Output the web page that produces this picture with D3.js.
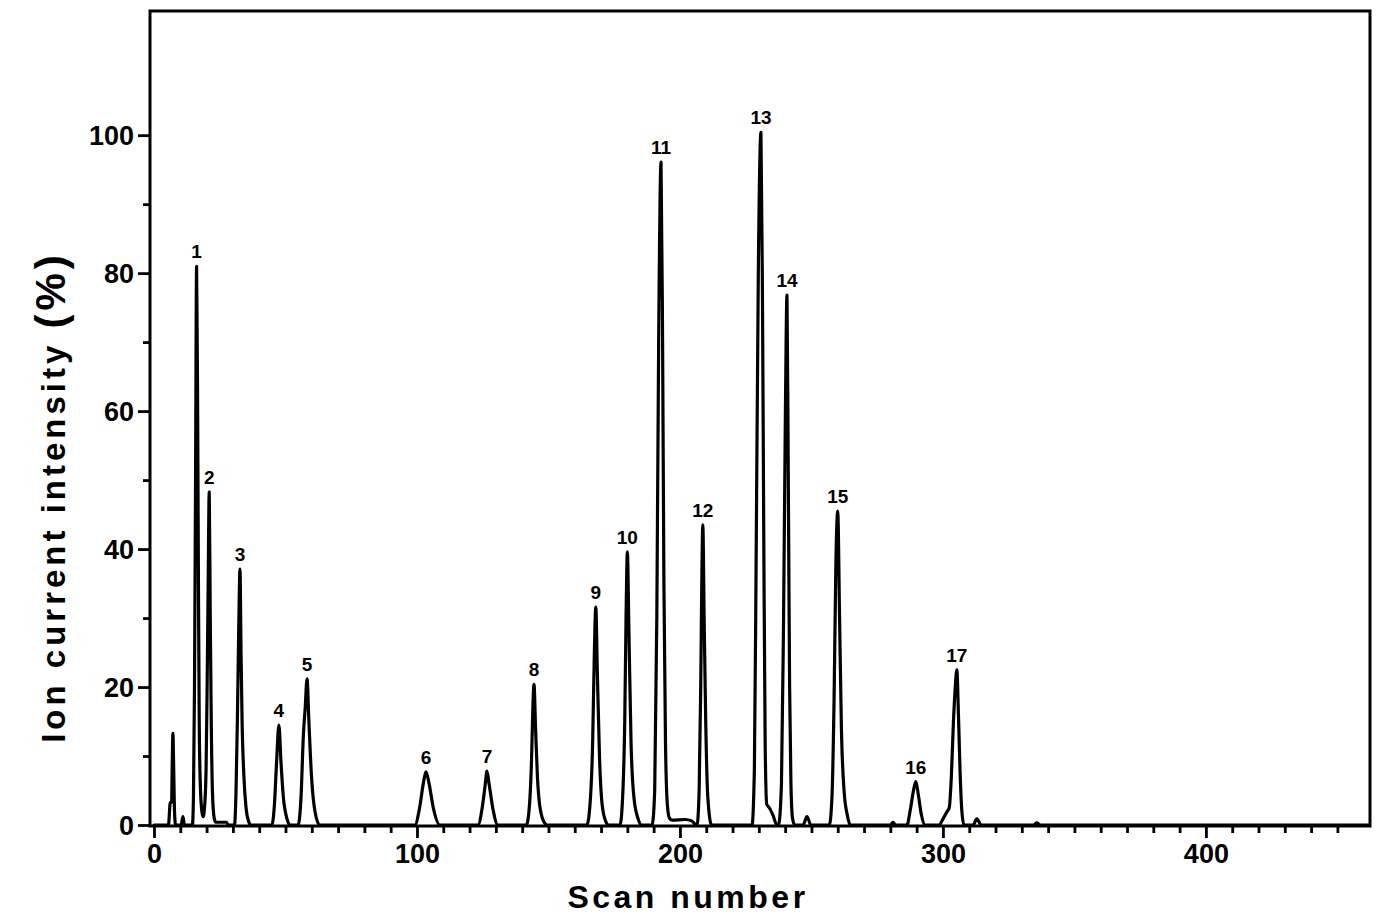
<!DOCTYPE html>
<html>
<head>
<meta charset="utf-8">
<script src="https://cdn.jsdelivr.net/npm/d3@7"></script>
<style>
  html, body { margin: 0; padding: 0; background: #fff; }
  svg { display: block; }
  text { font-family: "Liberation Sans", Arial, Helvetica, sans-serif; font-weight: bold; fill: #000; }
</style>
</head>
<body>
<svg id="chart" width="1376" height="914"></svg>
<script>
// Total ion current trace: [scan number, intensity %]
const trace = [
  [0,0],[5.5,0],[6.2,3.3],[6.7,3.3],[6.9,8],[7.2,13.3],[7.5,8],[7.8,2],[8.2,0],
  [10.3,0],[11,1.2],[11.6,0],
  [14.6,0],[15.0,4],[15.4,20],[15.8,50],[16.2,81],[16.6,60],[16.9,35],[17.2,15],[17.6,6],[18.2,2],[18.7,1.2],
  [19.3,3],[19.8,8],[20.2,20],[20.6,35],[21.0,48.3],[21.4,30],[21.8,14],[22.3,4],[22.9,1],[23.5,0.4],[27.5,0.4],[28.3,0],
  [30.6,0],[31.2,5],[31.7,15],[32.2,28],[32.7,37.1],[33.1,25],[33.5,15],[34.2,7],[35,2.5],[36,0.5],[36.8,0],
  [44.8,0],[45.8,3],[46.6,9],[47.5,14.5],[48.3,9],[49.2,4],[50.5,1],[51.7,0],
  [54.8,0],[55.9,4],[56.8,13],[57.5,17],[58.2,21.2],[58.9,15],[59.9,7],[61.2,2],[63,0],
  [99.2,0],[101,2.5],[102.4,6],[103.4,7.7],[104.6,6],[106.2,2.5],[108.7,0],
  [123.2,0],[124.8,2.5],[126,6],[126.6,7.8],[127.4,6],[128.8,2.5],[130.8,0],
  [141.6,0],[142.8,3],[143.6,10],[144.0,16],[144.5,20.4],[145.1,14],[145.8,7],[146.8,2.5],[148.5,0.3],[149.5,0],
  [164.6,0],[165.8,3],[166.8,12],[167.4,24],[168,31.6],[168.6,22],[169.4,10],[170.4,3],[171.8,0.5],[172.8,0],
  [177.2,0],[178.2,4],[179.0,15],[179.5,30],[180,39.6],[180.6,28],[181.4,12],[182.5,4],[184,1],[185.5,0],
  [189.4,0],[190.4,5],[191.2,30],[191.9,70],[192.8,96.1],[193.4,70],[193.9,35],[194.5,12],[195.2,3],[196,1],[197,0.7],[202,0.8],[204.5,0.6],[205.5,0.2],
  [206.5,0],[207.3,5],[207.9,20],[208.3,35],[208.7,43.5],[209.2,30],[209.8,15],[210.6,4],[212,0],
  [227.4,0],[228.3,8],[229.0,40],[229.8,80],[230.8,100.4],[231.4,75],[231.9,40],[232.4,12],[233,3],[234,2.5],[235.3,1.5],[236.9,0],
  [237.5,0],[238.6,6],[239.4,30],[240.1,60],[240.7,76.8],[241.2,50],[241.7,20],[242.2,6],[242.8,1],[243.6,0],
  [246.8,0],[248.3,1.2],[249.8,0],
  [256.8,0],[257.8,4],[258.6,18],[259.3,38],[260,45.5],[260.7,30],[261.4,14],[262.4,5],[263.6,1.5],[264.8,0],
  [280,0],[281,0.4],[282,0],
  [286.3,0],[287.6,2.2],[288.8,5],[289.7,6.3],[290.6,4.5],[291.8,1.5],[293.2,0],
  [298.5,0],[300.2,1],[301.5,1.9],[302.4,2.5],[303.2,7],[304.0,15],[304.7,20],[305.3,22.5],[305.9,16],[306.5,8],[307.2,2],[308,0],
  [311.5,0],[312.9,0.9],[314.5,0],
  [334.5,0],[335.7,0.3],[337,0],[462,0]
];

// Numbered peaks: label, apex scan, apex intensity
const peakLabels = ["1","2","3","4","5","6","7","8","9","10","11","12","13","14","15","16","17"];
const peakScans  = [16.2, 21.0, 32.7, 47.5, 58.2, 103.4, 126.6, 144.5, 168, 180, 192.8, 208.7, 230.8, 240.7, 260, 289.7, 305.3];
const peakHeights = [81, 48.3, 37.1, 14.5, 21.2, 7.7, 7.8, 20.4, 31.6, 39.6, 96.1, 43.5, 100.4, 76.8, 45.5, 6.3, 22.5];

const xTicks = d3.range(0, 451, 10);
const xTickLabels = [0, 100, 200, 300, 400];
const yTicks = d3.range(0, 101, 10);
const yTickLabels = [0, 20, 40, 60, 80, 100];

const plotLeft = 150, plotRight = 1370, plotTop = 11, plotBottom = 826;
const svg = d3.select("#chart");

const x = d3.scaleLinear().domain([-1.52, 462.4]).range([plotLeft, plotRight]);
const y = d3.scaleLinear().domain([0, 118]).range([plotBottom - 1, plotTop]);

// X axis ticks (below the frame)
const xAxis = d3.axisBottom(x)
  .tickValues(xTicks)
  .tickSize(0)
  .tickFormat("");
const gx = svg.append("g").attr("transform", `translate(0,${plotBottom})`).call(xAxis);
gx.select(".domain").remove();
gx.selectAll(".tick line")
  .attr("y2", d => d % 100 === 0 ? 12 : 7)
  .attr("stroke", "#000").attr("stroke-width", 2.8);
gx.selectAll(".tick")
  .filter(d => xTickLabels.includes(d))
  .append("text")
  .attr("y", 37)
  .attr("text-anchor", "middle")
  .style("font-size", "27px")
  .text(d => d);

// Y axis ticks (left of the frame)
const yAxis = d3.axisLeft(y)
  .tickValues(yTicks)
  .tickSize(0)
  .tickFormat("");
const gy = svg.append("g").attr("transform", `translate(${plotLeft},0)`).call(yAxis);
gy.select(".domain").remove();
gy.selectAll(".tick line")
  .attr("x2", d => d % 20 === 0 ? -12 : -7)
  .attr("stroke", "#000").attr("stroke-width", 2.8);
gy.selectAll(".tick")
  .filter(d => yTickLabels.includes(d))
  .append("text")
  .attr("x", -16)
  .attr("dy", "0.36em")
  .attr("text-anchor", "end")
  .style("font-size", "27px")
  .text(d => d);

// Trace
const line = d3.line()
  .x(d => x(d[0]))
  .y(d => y(d[1]))
  .curve(d3.curveMonotoneX);
svg.append("path")
  .datum(trace)
  .attr("d", line)
  .attr("fill", "none")
  .attr("stroke", "#000")
  .attr("stroke-width", 3.2)
  .attr("stroke-linejoin", "round")
  .attr("stroke-linecap", "round");

// Frame
svg.append("rect")
  .attr("x", plotLeft).attr("y", plotTop)
  .attr("width", plotRight - plotLeft).attr("height", plotBottom - plotTop)
  .attr("fill", "none")
  .attr("stroke", "#000")
  .attr("stroke-width", 3);

// Peak numbers
svg.append("g").selectAll("text")
  .data(peakLabels)
  .join("text")
  .attr("x", (d, i) => x(peakScans[i]))
  .attr("y", (d, i) => y(peakHeights[i]) - 8)
  .attr("text-anchor", "middle")
  .style("font-size", "19px")
  .text(d => d);

// Axis titles
svg.append("text")
  .attr("x", 688)
  .attr("y", 908)
  .attr("text-anchor", "middle")
  .style("font-size", "32px")
  .style("letter-spacing", "3.5px")
  .text("Scan number");

const yTitle = svg.append("text")
  .attr("transform", "translate(65,497) rotate(-90)")
  .attr("text-anchor", "middle")
  .style("font-size", "33px")
  .style("letter-spacing", "4px");
yTitle.append("tspan").text("Ion current intensity ");
yTitle.append("tspan").style("font-size", "42px").text("(%)");
</script>
</body>
</html>
